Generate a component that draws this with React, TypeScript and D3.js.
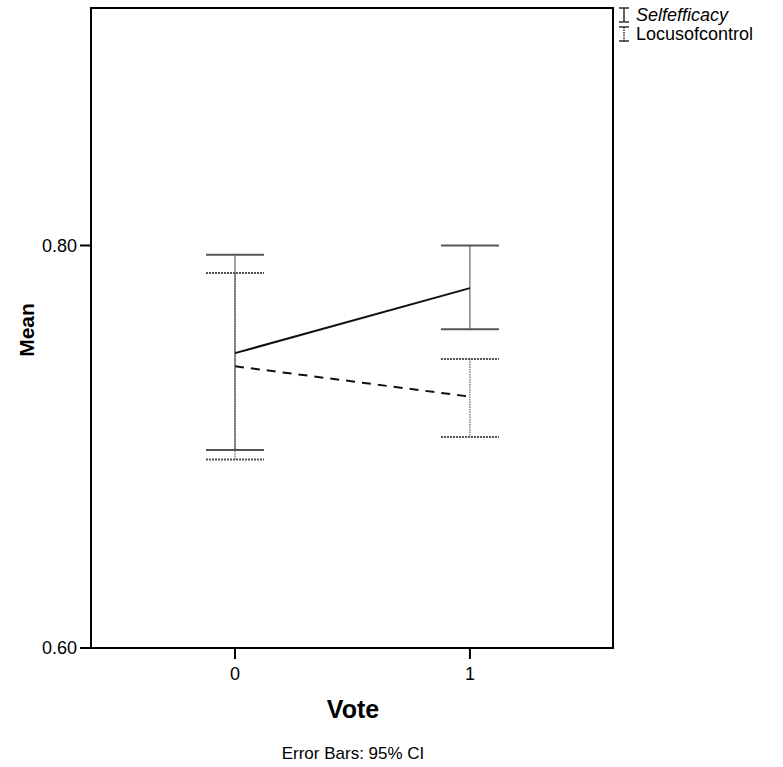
import React from 'react';
import * as d3 from 'd3';

// data
const votes = [0, 1];
const seriesNames = ['Selfefficacy', 'Locusofcontrol'];
const selfMean = [0.7465, 0.7788];
const selfLow = [0.6984, 0.7584];
const selfHigh = [0.7954, 0.8000];
const locusMean = [0.7400, 0.7249];
const locusLow = [0.6937, 0.7049];
const locusHigh = [0.7863, 0.7436];
const yTicks = [0.6, 0.8];

const FONT = '"Liberation Sans", Arial, Helvetica, sans-serif';

export default function App() {
  const width = 783;
  const height = 767;
  const plot = { left: 91, top: 8, right: 613, bottom: 648 };

  const x = d3.scaleLinear().domain([-0.613, 1.609]).range([plot.left, plot.right]);
  const y = d3.scaleLinear().domain([0.6, 0.918]).range([plot.bottom, plot.top]);

  const line = d3.line<number>()
    .x((d, i) => x(votes[i]))
    .y(d => y(d));

  const capHalf = 29;

  const series = [
    { mean: selfMean, low: selfLow, high: selfHigh, dash: undefined as string | undefined, barDash: undefined as string | undefined },
    { mean: locusMean, low: locusLow, high: locusHigh, dash: '9,7', barDash: '1.5,1' },
  ];

  return (
    <svg width={width} height={height}
         style={{ position: 'absolute', left: 0, top: 0, background: '#fff' }}>
      {/* plot frame */}
      <rect x={plot.left} y={plot.top}
            width={plot.right - plot.left} height={plot.bottom - plot.top}
            fill="#fff" stroke="#000" strokeWidth={2} />

      {/* error bars */}
      {series.map((s, si) => votes.map((v, i) => (
        <g key={si + '-' + i}>
          <line x1={x(v)} x2={x(v)} y1={y(s.high[i])} y2={y(s.low[i])}
                stroke="#444" strokeWidth={1} strokeDasharray={s.barDash} />
          {[s.high[i], s.low[i]].map((c, k) => (
            <line key={k} x1={x(v) - capHalf} x2={x(v) + capHalf} y1={y(c)} y2={y(c)}
                  stroke="#555" strokeWidth={2} strokeDasharray={si === 1 ? '2,1' : undefined} />
          ))}
        </g>
      )))}

      {/* mean lines */}
      {series.map((s, si) => (
        <path key={'l' + si} d={line(s.mean) || ''} fill="none"
              stroke="#111" strokeWidth={2} strokeDasharray={s.dash} />
      ))}

      {/* y axis ticks */}
      {yTicks.map(t => (
        <g key={t}>
          <line x1={plot.left - 11} x2={plot.left} y1={y(t)} y2={y(t)} stroke="#000" strokeWidth={2} />
          <text x={plot.left - 14} y={y(t)} dy="0.35em" textAnchor="end"
                fontFamily={FONT} fontSize={18}>{d3.format('.2f')(t)}</text>
        </g>
      ))}

      {/* x axis ticks */}
      {votes.map(v => (
        <g key={v}>
          <line x1={x(v)} x2={x(v)} y1={plot.bottom} y2={plot.bottom + 11} stroke="#000" strokeWidth={2} />
          <text x={x(v)} y={plot.bottom + 32} textAnchor="middle"
                fontFamily={FONT} fontSize={18}>{v}</text>
        </g>
      ))}

      {/* axis titles */}
      <text transform={`translate(34,${(plot.top + plot.bottom) / 2 + 2}) rotate(-90)`}
            textAnchor="middle" fontFamily={FONT} fontSize={21} fontWeight="bold">Mean</text>
      <text x={353} y={718} textAnchor="middle" fontFamily={FONT}
            fontSize={25} fontWeight="bold">Vote</text>
      <text x={353} y={759} textAnchor="middle" fontFamily={FONT}
            fontSize={17}>Error Bars: 95% CI</text>

      {/* legend */}
      {seriesNames.map((name, i) => {
        const ly = 15 + i * 19;
        return (
          <g key={name}>
            <line x1={624} x2={624} y1={ly - 7} y2={ly + 7} stroke="#222" strokeWidth={1.4}
                  strokeDasharray={i === 1 ? '1.5,1' : undefined} />
            <line x1={619} x2={629} y1={ly - 7} y2={ly - 7} stroke="#222" strokeWidth={1.4} />
            <line x1={619} x2={629} y1={ly + 7} y2={ly + 7} stroke="#222" strokeWidth={1.4} />
            <text x={636} y={ly} dy="0.35em" fontFamily={FONT} fontSize={18}
                  fontStyle={i === 0 ? 'italic' : 'normal'}>{name}</text>
          </g>
        );
      })}
    </svg>
  );
}
